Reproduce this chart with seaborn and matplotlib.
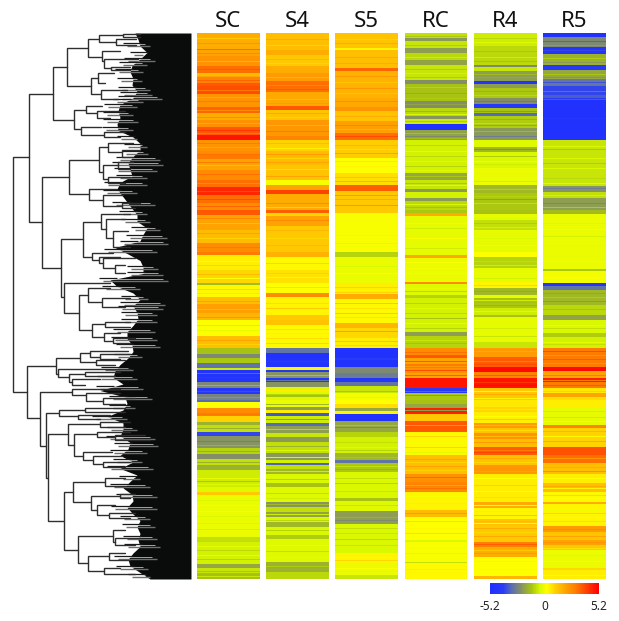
"""
Clustered expression heatmap with row dendrogram (SC, S4, S5, RC, R4, R5).
"""

import numpy as np
import matplotlib
matplotlib.use("Agg")
import matplotlib.pyplot as plt
from matplotlib.colors import LinearSegmentedColormap
import seaborn as sns

# -----------------------------
# Data
# -----------------------------
samples = ["SC", "S4", "S5", "RC", "R4", "R5"]

# every column is a list of bands: value, and the row where that band stops
sc_vals = [1.8, 3.2, 2.0, 2.4, 3.2, 1.5, 2.8, 3.6, 3.8, 2.4, 3.4, 1.8, 2.5, 3.6, 4.8, 2.4, 2.6, 3.0, 2.0, 2.6, 3.2, 4.5, 3.2, 2.6,
           3.6, 2.0, 1.5, 2.6, 3.0, 0.5, 0.9, -1.4, 0.3, 1.4, 2.1, 1.6, 0.2, 1.4, -1.3, -2.4, -1.2, -3.0, -0.6, -4.8, -2.4, -4.4, -2.6,
           -3.2, 0.2, 2.6, 3.0, 1.0, -1.6, -0.8, -3.8, -2.2, -1.0, -2.3, -0.8, -1.6, -0.6, -0.3, 1.2, -0.1, -0.8, -0.5, -1.8, -0.7, -1.3]
sc_ends = [16, 17, 23, 33, 40, 44, 50, 53, 61, 74, 80, 87, 94, 102, 107, 118, 122, 126, 137, 147, 154, 162, 170, 177,
           182, 197, 210, 219, 222, 237, 250, 252, 264, 271, 280, 287, 303, 315, 321, 325, 330, 335, 337, 349, 355, 361, 367,
           369, 375, 380, 383, 389, 392, 399, 403, 415, 421, 426, 432, 437, 454, 459, 462, 504, 509, 531, 535, 540, 546]

s4_vals = [1.4, 1.8, 1.2, 1.8, 2.2, 3.2, 1.9, 3.6, 1.3, 2.3, 2.8, 1.0, 1.5, 1.3, 0.1, 2.0, 4.0, 1.8,
           3.5, 0.9, 2.0, 1.2, 1.7, 0.3, 0.7, 0.2, 2.6, 0.4, 1.2, 1.3, 0.3, -3.0, -5.0, -4.8, 0.3, -4.6, -2.2, -4.5, -2.2, -0.3, -1.3, -0.3,
           -0.1, -2.0, 0.5, -3.5, -0.6, -3.2, -2.0, -0.7, -2.1, -0.8, -2.1, -0.5, -3.3, -0.8, -1.5, -0.4, -1.3, -0.3, -2.2, -0.8, -1.9, -0.4, -1.5, -0.4, -1.1, -0.3, -1.6, -0.9]
s4_ends = [17, 22, 33, 40, 48, 59, 73, 77, 87, 103, 107, 118, 132, 147, 152, 157, 161, 177,
           180, 183, 193, 219, 224, 237, 250, 260, 264, 282, 287, 292, 315, 320, 325, 334, 337, 339, 345, 349, 354, 362, 364, 367,
           374, 377, 380, 383, 390, 393, 400, 404, 409, 420, 427, 430, 432, 436, 441, 450, 454, 469, 474, 479, 484, 489, 494, 502, 506, 529, 539, 546]

s5_vals = [1.3, 0.4, 1.4, 3.4, 1.7, 1.9, 2.4, 1.3, 2.1, 3.2, 1.1, 0.2, 0.8, 3.5, 1.2,
           1.2, 0.1, -1.0, -0.1, 0.5, 1.8, 0.3, 1.6, 0.9, 0.5, -5.0, -4.0, -5.0, -2.4, -2.8, -4.4, -3.0, -0.7, 0.0,
           0.2, 0.8, -1.8, 0.4, -5.0, -1.8, -1.0, -0.5, -1.5, -3.0, -1.2, -0.4, -1.3, -0.3, -2.0, -0.4, 0.4, -0.1, -0.7]
s5_ends = [15, 17, 35, 38, 65, 74, 78, 88, 100, 107, 125, 140, 152, 158, 177,
           180, 219, 224, 250, 261, 266, 290, 295, 305, 315, 325, 327, 334, 340, 345, 349, 353, 360, 367,
           371, 375, 378, 381, 388, 399, 404, 420, 427, 430, 439, 465, 468, 478, 491, 520, 530, 542, 546]

rc_vals = [-0.8, -2.1, -0.7, -2.0, -0.9, -1.9, -0.7, -2.3, -1.3, -2.3, -0.9, -2.2, -0.6, -5.0, -1.9, -0.5, -1.8, -0.7, -2.1, -0.5, -2.1, -0.9,
           -1.2, 1.8, -0.2, 1.9, -0.1, 2.6, -0.3, -1.0, -0.5, -2.0, -1.0, 2.6, 3.6, 2.0, 3.0, 2.5, 2.0, 4.8, -4.2, -1.2,
           -1.3, -1.8, 4.6, 1.2, 3.6, 0.3, 1.4, 2.5, 2.8, 0.4, 1.5, 0.2, -0.4, 0.1, -0.8, 0.3]
rc_ends = [5, 8, 15, 20, 27, 32, 47, 51, 68, 75, 83, 86, 91, 97, 107, 140, 147, 156, 159, 165, 168, 177,
           180, 183, 222, 225, 249, 251, 262, 265, 299, 303, 315, 322, 325, 331, 335, 340, 345, 355, 360, 367,
           371, 375, 381, 388, 399, 422, 441, 449, 459, 477, 484, 507, 509, 529, 530, 546]

r4_vals = [-0.6, -0.9, -2.4, -0.7, -2.0, -4.8, -2.0, -1.2, -2.3, -4.4, -1.3, -3.2, -1.1, -2.1, -0.3, -1.5, -0.4, -0.1, -1.5, -1.2,
           -1.3, -0.2, -0.8, -0.2, 0.2, -1.0, -0.2, 0.4, -1.5, -0.2, -1.3, -1.2, -0.6, -1.3, -0.2, -0.7, 2.2, 3.5, 5.0, 2.8, 4.8, 1.2,
           0.6, 0.9, 0.5, 2.2, 1.3, 2.4, 1.4, 3.5, 1.3, 2.3, 0.5, 1.8, 0.4, 1.3, 1.2, 2.9, 1.8, 0.2, 1.6]
r4_ends = [13, 32, 34, 38, 48, 51, 55, 65, 71, 75, 80, 83, 95, 107, 114, 119, 135, 152, 160, 177,
           181, 187, 197, 219, 224, 235, 249, 255, 262, 265, 270, 275, 282, 284, 309, 315, 324, 334, 339, 345, 355, 367,
           374, 379, 390, 395, 400, 406, 414, 422, 432, 441, 469, 475, 486, 493, 509, 514, 524, 543, 546]

r5_vals = [-5.0, -2.4, -4.6, -1.6, -4.2, -1.8, -2.9, -3.8, -3.4, -5.0, -0.7, -2.2, -0.8, -2.0,
           -1.4, -0.1, -1.2, 0.0, -4.6, -3.0, -1.5, -0.9, -1.9, -0.4, -1.1, -0.5, 3.0, 5.0, 2.0, 4.6, 3.0, 0.6, 2.0, 0.8,
           0.5, -0.2, 2.8, 1.0, 3.7, 3.2, 1.4, 0.5, 1.4, 0.3, 1.8, 0.4, 2.2, 1.3, 2.0, 1.2, -0.1, 0.9, 0.5]
r5_ends = [4, 14, 21, 32, 37, 46, 53, 62, 67, 107, 153, 159, 165, 177,
           181, 236, 238, 250, 253, 257, 272, 282, 287, 300, 304, 315, 334, 338, 345, 349, 355, 360, 364, 367,
           374, 392, 395, 414, 422, 430, 441, 450, 459, 469, 471, 493, 499, 507, 512, 517, 535, 538, 546]

# single thin stripes on top of the bands: row, value
sc_thin = [(5, 1.2), (10, 2.4), (20, 2.6), (28, 1.6), (36, 3.6), (43, 2.0), (47, 3.4), (57, 3.0), (64, 1.8), (68, 3.0), (77, 2.6), (84, 2.6),
           (90, 1.8), (97, 4.2), (100, 3.0), (110, 3.0), (114, 1.8), (121, 3.2), (129, 3.0), (132, 1.4), (141, 3.2), (150, 2.6), (158, 3.8),
           (166, 3.8), (173, 3.4), (185, 2.8), (190, 1.4), (200, 2.0), (205, 1.0), (214, 3.0), (228, 0.2), (232, 1.0), (241, 1.5), (245, 0.2),
           (256, 0.9), (260, -0.3), (268, 2.0), (276, 1.5), (284, 2.4), (292, 0.8), (297, -0.2), (307, 2.0), (311, 1.0), (340, -3.2), (344, -4.0),
           (352, -1.5), (358, -3.6), (364, -2.0), (395, -1.6), (408, -2.8), (412, -1.6), (418, -1.6), (429, -1.6), (445, -0.2), (448, -1.2),
           (451, -0.3), (467, -0.4), (472, 0.0), (478, 0.1), (483, -0.4), (490, -0.4), (496, -0.5), (499, -0.1), (513, -0.2), (517, -0.9),
           (522, -0.2), (526, -1.0), (538, -1.2), (543, -0.7)]
s4_thin = [(6, 1.9), (12, 1.0), (26, 1.7), (30, 0.9), (44, 1.6), (52, 2.8), (56, 3.6), (66, 1.5), (70, 2.2), (80, 1.9), (84, 1.0), (92, 1.7),
           (98, 3.0), (110, 1.5), (115, 0.5), (121, 2.2), (125, 1.0), (129, 2.0), (136, 0.8), (143, 2.0), (170, 2.6), (174, 1.0), (187, 2.7),
           (197, 1.6), (205, 0.9), (212, 1.5), (230, 0.9), (234, 0.0), (240, 1.0), (244, 0.0), (254, 0.8), (270, 0.8), (275, 1.2), (278, 0.0),
           (296, 0.8), (300, -0.1), (305, 0.8), (310, 0.9), (328, -4.0), (342, -1.2), (347, -3.0), (357, 0.5), (361, -1.0), (371, -1.5), (386, -2.0),
           (396, -0.9), (413, -1.6), (417, -0.4), (424, -0.4), (438, -0.6), (446, -1.0), (460, -0.8), (465, -0.6), (471, -1.5), (481, -0.6),
           (487, -0.9), (497, -1.0), (512, -0.1), (518, -0.8), (524, -0.2), (533, -1.1)]
s5_thin = [(6, 1.0), (10, 1.8), (24, 1.9), (30, 1.8), (43, 2.3), (49, 1.3), (55, 2.3), (60, 1.3), (68, 2.5), (83, 1.8), (92, 2.8), (96, 1.6),
           (103, 3.8), (112, 1.6), (116, 0.8), (120, 2.0), (128, 0.6), (133, 0.4), (144, 1.3), (148, 1.6), (162, 2.2), (166, 1.8), (172, 2.3),
           (186, 0.3), (202, 0.4), (210, 0.5), (213, 0.0), (216, 0.3), (233, -0.4), (240, 0.2), (254, 1.0), (257, 0.4), (259, 1.0), (270, 1.2),
           (275, 0.7), (280, 1.1), (284, 0.7), (298, 2.0), (308, 1.3), (312, 0.9), (358, -1.2), (364, 0.5), (392, -1.2), (394, -2.4), (409, -0.8),
           (414, -0.3), (417, -1.0), (424, -1.2), (433, -0.8), (436, -1.6), (445, -0.8), (450, -1.0), (458, -0.7), (472, -0.7), (484, -1.6),
           (487, -2.4), (495, -0.8), (500, -0.7), (506, -0.9), (512, -0.7), (524, 0.1), (527, 0.9), (535, 0.2), (538, 0.5)]
rc_thin = [(3, -1.2), (12, -1.1), (24, -0.6), (36, -1.1), (40, -0.5), (44, -1.1), (54, -1.0), (60, -1.7), (65, -1.1), (71, -1.9), (78, -1.5),
           (81, -0.4), (88, -1.1), (100, -1.3), (103, -2.4), (105, -1.4), (112, -0.9), (118, -0.2), (123, -0.9), (128, -0.3), (133, -1.0), (137, -0.3),
           (143, -1.2), (150, -1.2), (152, -0.3), (171, -0.4), (174, -1.3), (190, 0.0), (195, -0.6), (205, 0.1), (215, -0.6), (229, 0.2), (235, 0.0),
           (240, 0.3), (255, -0.2), (258, -0.9), (270, -1.0), (275, -0.3), (280, -0.9), (285, -1.3), (290, -0.2), (295, -1.0), (307, -0.7), (310, -1.3),
           (319, 3.2), (328, 3.5), (333, 2.2), (337, 3.8), (342, 3.5), (358, -3.2), (362, -2.0), (377, -2.0), (392, 2.4), (403, 0.9), (409, 0.1),
           (414, 1.0), (419, -0.2), (426, 2.0), (429, 1.0), (433, 2.0), (437, 1.0), (444, 3.3), (452, 2.0), (455, 3.2), (457, 2.4), (463, 0.1),
           (470, 0.5), (480, 2.2), (488, 0.8), (495, 0.3), (500, 0.8), (515, 0.0), (520, 0.5), (536, 0.5), (540, 0.0)]
r4_thin = [(5, -0.9), (9, -0.3), (18, -1.2), (24, -0.6), (28, -1.3), (41, -1.5), (44, -1.8), (58, -1.6), (62, -0.9), (68, -2.9), (78, -2.1), (86, -1.6),
           (90, -0.8), (92, -1.8), (98, -1.4), (103, -2.8), (116, -2.3), (123, -1.1), (128, 0.0), (131, -0.6), (140, -0.2), (148, -0.5), (156, -1.0),
           (163, -1.0), (166, -2.0), (170, -0.8), (185, -0.4), (190, -1.1), (194, -0.5), (205, -0.4), (212, 0.0), (228, -0.8), (232, -0.6), (240, -0.1),
           (245, -0.5), (252, 0.9), (258, -1.8), (267, -0.6), (272, -1.6), (278, -0.3), (295, -0.6), (300, -0.1), (303, -0.7), (318, 1.8), (328, 2.9),
           (331, 3.8), (342, 3.6), (349, 4.2), (352, 5.0), (358, 0.2), (361, 1.8), (365, 0.4), (376, -0.3), (383, 0.2), (386, 1.2), (392, 1.4), (397, 0.8),
           (403, 1.5), (409, 2.2), (417, 3.0), (419, 4.0), (425, 1.8), (429, 0.9), (435, 2.4), (438, 2.0), (445, 0.2), (452, 1.0), (458, 0.2), (464, 0.8),
           (472, 0.2), (478, 0.5), (482, 1.3), (488, 1.5), (490, 0.2), (495, 1.8), (499, 0.9), (503, 1.9), (511, 3.5), (517, 1.2), (520, 2.2), (528, 0.4), (536, 0.1)]
r5_thin = [(8, -3.3), (12, -2.0), (17, -3.8), (25, -1.1), (29, -2.1), (41, -1.2), (44, -2.2), (49, -3.6), (58, -3.0), (65, -4.2), (85, -4.4), (113, -0.4),
           (116, -1.2), (125, -0.4), (130, -1.1), (135, -0.4), (145, -0.9), (150, -0.3), (155, -2.8), (162, -0.5), (170, -2.4), (174, -1.1), (190, -0.3),
           (196, 0.1), (203, -0.5), (212, -0.2), (228, 0.0), (244, 0.1), (260, -1.9), (264, -1.1), (268, -2.1), (276, -1.3), (292, -0.1), (295, -0.8),
           (309, -0.2), (311, -0.8), (318, 3.8), (322, 2.4), (326, 3.6), (330, 2.4), (342, 3.0), (347, 3.0), (352, 3.6), (358, 1.0), (378, -0.5), (384, -0.6),
           (388, 0.1), (398, 1.6), (403, 0.3), (408, 1.8), (425, 2.4), (434, 1.8), (438, 2.5), (445, 0.2), (453, 1.8), (455, 0.4), (462, 0.9), (465, 0.2),
           (477, 0.0), (480, 0.9), (484, 0.1), (488, 0.8), (496, 2.7), (503, 2.0), (509, 2.4), (515, 0.8), (522, -0.3), (528, 0.1), (537, 0.5), (542, 0.1)]

column_vals = [sc_vals, s4_vals, s5_vals, rc_vals, r4_vals, r5_vals]
column_ends = [sc_ends, s4_ends, s5_ends, rc_ends, r4_ends, r5_ends]
column_thin = [sc_thin, s4_thin, s5_thin, rc_thin, r4_thin, r5_thin]

# dendrogram merges: merge x, top y, top child x, bottom y, bottom child x
branches = [
    (13, 157, 28.7, 392, 27),
    (28.7, 94, 53.3, 222, 42.3), (53.3, 67, 67.3, 120, 73.7), (67.3, 48, 87.7, 86, 90.7),
    (87.7, 39, 98.7, 57, 102), (98.7, 35, 123, 42, 115.7), (115.7, 39, 136, 45, 136), (123, 34, 140, 37, 140),
    (102, 51, 120, 61, 104.3), (104.3, 59, 138, 68, 111), (111, 67, 130, 70, 130),
    (90.7, 78, 98.3, 94, 101.3), (98.3, 73, 114.3, 83, 105), (101.3, 90, 126.7, 99, 118.3),
    (73.7, 110, 85.7, 129, 81), (85.7, 106, 101.7, 113, 97.3), (97.3, 111, 125, 118, 110),
    (81, 127, 100.7, 135, 104), (104, 132, 125, 137, 120),
    (42.3, 177, 69.3, 268, 61), (69.3, 160, 98.7, 194, 89.3), (98.7, 147, 107.7, 172, 102.7),
    (107.7, 143, 133, 152, 121.7), (121.7, 150, 140, 157, 133), (102.7, 165, 118.3, 179, 108.3),
    (118.3, 162, 133, 169, 130), (108.3, 177, 130, 183, 125), (89.3, 189, 116.7, 200, 103.3),
    (103.3, 195, 123, 206, 121.7), (121.7, 203, 140, 208, 135),
    (61, 239, 83.3, 297, 64), (83.3, 222, 100.7, 257, 91.7), (100.7, 214, 130, 229, 106),
    (106, 219, 125, 238, 113.3), (113.3, 231, 128, 247, 130), (91.7, 253, 113, 260, 99.3),
    (99.3, 257, 120, 263, 102.7), (102.7, 258, 135, 268, 115), (115, 265, 125, 273, 125),
    (64, 283, 110, 313, 78.7), (78.7, 295, 88.3, 330, 91.7), (88.3, 288, 110, 302, 101.7),
    (101.7, 298, 130, 307, 125), (91.7, 324, 105, 337, 104.3), (105, 322, 130, 327, 130),
    (104.3, 333, 120, 341, 112.7), (112.7, 338, 135, 343, 130),
    (27, 366, 55.7, 418, 40), (55.7, 358, 80, 374, 58.3), (80, 353, 90, 362, 96),
    (90, 351, 128, 357, 100), (100, 354, 130, 359, 120), (96, 360, 125, 365, 115),
    (58.3, 369, 130, 377, 69.3), (69.3, 374, 85, 382, 71.7), (85, 372, 120, 376, 115),
    (71.7, 379, 100, 385, 85), (40, 392, 72.3, 446, 45.7), (72.3, 389, 120, 395, 86),
    (86, 393, 120, 401, 103.3), (103.3, 398, 135, 404, 125), (45.7, 413, 59.3, 478, 48.3),
    (59.3, 410, 85.3, 416, 77.7), (85.3, 408, 125, 412, 125), (77.7, 415, 110, 419, 100),
    (48.3, 434, 67.7, 521, 64.3), (67.7, 424, 100, 445, 74.3), (100, 422, 130, 427, 125),
    (74.3, 434, 96.7, 456, 83.3), (96.7, 432, 130, 437, 115), (115, 435, 145, 440, 150),
    (83.3, 452, 112, 460, 93.3), (93.3, 456, 122, 464, 103.3), (103.3, 462, 130, 467, 125),
    (64.3, 492, 73.3, 550, 78.3), (73.3, 482, 105.3, 502, 91), (105.3, 478, 125, 486, 125),
    (91, 496, 120, 510, 96.7), (96.7, 505, 115, 515, 109.3), (109.3, 513, 135, 518, 130),
    (120, 494, 135, 498, 130), (78.3, 536, 113.3, 563, 88.3), (113.3, 530, 125, 542, 115),
    (115, 538, 140, 545, 135), (88.3, 556, 109.3, 571, 104.3), (109.3, 553, 125, 560, 130),
    (104.3, 568, 120, 574, 135),
]

# left edge of the solid leaf block, one value for every 6.67 rows from the top
leaf_edge = [135, 138, 140, 147, 140, 132, 130, 133, 132, 137, 133, 120, 118, 120, 117, 118, 133, 140, 140, 133,
             128, 130, 132, 120, 117, 122, 127, 132, 137, 137, 147, 143, 140, 115, 128, 140, 143, 143, 110, 117,
             133, 140, 133, 137, 138, 133, 127, 127, 132, 133, 128, 120, 115, 113, 123, 100, 125, 127, 123, 107,
             123, 123, 120, 130, 128, 120, 133, 120, 137, 130, 123, 132, 133, 127, 133, 140, 137, 140, 138, 140,
             133, 128, 130, 140, 150]

# light leaf lines that cut into the black block: row, x where they stop
leaf_streaks = [(44, 150), (53, 143), (59, 155), (63, 147), (70, 143), (79, 142), (88, 150), (93, 152), (97, 162), (100, 143),
                (105, 137), (113, 133), (120, 138), (128, 133), (137, 137), (145, 147), (152, 148), (158, 160), (163, 163),
                (169, 157), (176, 147), (183, 147), (191, 137), (203, 155), (212, 147), (220, 150), (228, 160), (236, 167),
                (242, 168), (250, 157), (267, 158), (273, 163), (279, 168), (287, 140), (297, 148), (303, 165), (307, 163),
                (313, 157), (320, 157), (330, 155), (338, 157), (345, 160), (355, 142), (368, 133), (377, 137), (387, 143),
                (397, 152), (406, 135), (417, 127), (428, 137), (437, 155), (444, 158), (451, 147), (460, 142), (467, 153),
                (477, 140), (485, 150), (495, 157), (507, 157), (517, 150), (525, 155), (537, 157), (545, 160), (557, 157),
                (567, 148), (575, 150)]

color_stops = [(0.0, "#2030ff"), (0.12, "#2a3cf5"), (0.2, "#5a70b0"), (0.27, "#808a70"), (0.38, "#a8c410"),
               (0.46, "#d8f800"), (0.52, "#ffff00"), (0.6, "#ffd000"), (0.7, "#ffa000"), (0.78, "#ff8000"),
               (0.86, "#ff5000"), (1.0, "#ff0000")]
color_limit = 5.2
bar_ticks = [-5.2, 0, 5.2]
bar_labels = ["-5.2", "0", "5.2"]


# -----------------------------
# Helpers
# -----------------------------
def place(fig, left, top, width, height):
    # axes position given in picture pixels
    return fig.add_axes([left / 619, 1 - (top + height) / 621, width / 619, height / 621])


def column_matrix(vals, ends, thin):
    lengths = np.diff([0] + ends)
    column = np.repeat(vals, lengths).astype(float)
    for row, value in thin:
        column[row] = value
    return column.reshape(-1, 1)


# -----------------------------
# Main
# -----------------------------
def main():
    sns.set_theme(style="white")
    plt.rcParams["font.family"] = ["Noto Sans", "DejaVu Sans"]

    cmap = LinearSegmentedColormap.from_list("yellow_red_blue", color_stops)
    fig = plt.figure(figsize=(6.19, 6.21), dpi=100)

    lefts = [197, 266, 335, 404.5, 474, 543]
    cax = place(fig, 490, 583, 109, 11)
    for i, name in enumerate(samples):
        ax = place(fig, lefts[i], 33, 62.5, 546)
        sns.heatmap(column_matrix(column_vals[i], column_ends[i], column_thin[i]), ax=ax, cmap=cmap,
                    vmin=-color_limit, vmax=color_limit,
                    xticklabels=False, yticklabels=False,
                    cbar=i == 0, cbar_ax=cax if i == 0 else None,
                    cbar_kws={"orientation": "horizontal"} if i == 0 else None)
        ax.set_title(name, fontsize=16, pad=4, color="#111111")

    cbar = fig.axes[1].collections[0].colorbar
    cbar.set_ticks(bar_ticks, labels=bar_labels)
    cbar.ax.tick_params(length=0, labelsize=8.5, pad=4, colors="#222222")
    cbar.outline.set_visible(False)

    # dendrogram, in the same rows as the heatmap columns
    dax = place(fig, 0, 33, 191, 546)
    rows = 33 + np.arange(len(leaf_edge)) * 546 / (len(leaf_edge) - 1)
    dax.fill_betweenx(rows, leaf_edge, 191, color="#0a0c0b", lw=0)
    for row, stop in leaf_streaks:
        start = np.interp(row, rows, leaf_edge)
        dax.plot([start - 12, stop], [row + 1.5, row + 1.5], color="#6e6e6e", lw=1.0, solid_capstyle="butt")
        dax.plot([start - 16, start + 2], [row - 1.5, row - 1.5], color="#1a1a1a", lw=0.9, solid_capstyle="butt")
        dax.plot([start - 3, stop - 5], [row, row], color="#dddddd", lw=0.5, solid_capstyle="butt")
    for x, y_top, x_top, y_bot, x_bot in branches:
        dax.plot([x_top, x, x, x_bot], [y_top, y_top, y_bot, y_bot], color="#2e2e2e", lw=1.0, solid_joinstyle="miter")
    dax.set_xlim(0, 191)
    dax.set_ylim(579, 33)
    dax.axis("off")

    fig.savefig("out.png", dpi=100)
    plt.close(fig)


if __name__ == "__main__":
    main()
